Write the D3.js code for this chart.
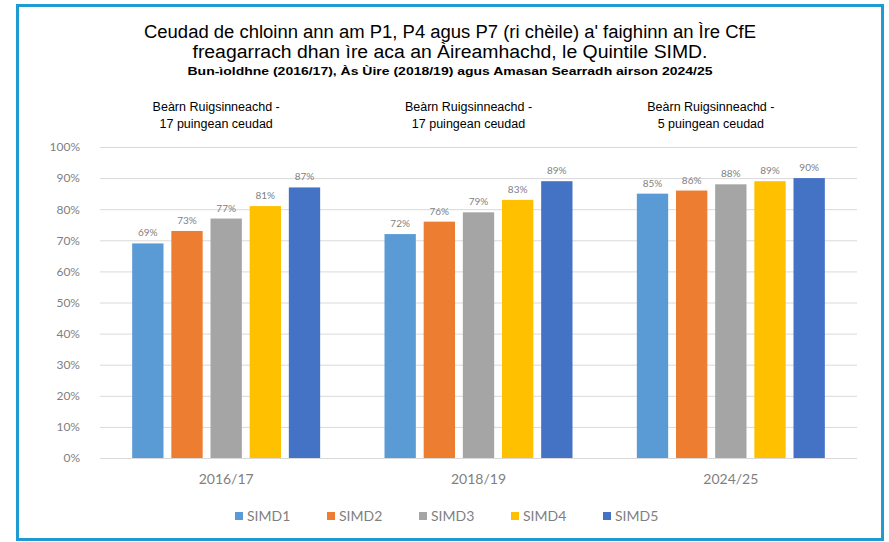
<!DOCTYPE html>
<html>
<head>
<meta charset="utf-8">
<script src="https://cdn.jsdelivr.net/npm/d3@7"></script>
<style>
  body { margin: 0; background: #fff; }
  svg { display: block; }
</style>
</head>
<body>
<div id="chart"></div>
<script>
const width = 889;
const height = 542;

// data
const years = ["2016/17", "2018/19", "2024/25"];
const series = ["SIMD1", "SIMD2", "SIMD3", "SIMD4", "SIMD5"];
const simd1 = [69, 72, 85];
const simd2 = [73, 76, 86];
const simd3 = [77, 79, 88];
const simd4 = [81, 83, 89];
const simd5 = [87, 89, 90];
const gapNotes = ["17 puingean ceudad", "17 puingean ceudad", "5 puingean ceudad"];
const yTicks = [0, 10, 20, 30, 40, 50, 60, 70, 80, 90, 100];
const colors = ["#5B9BD5", "#ED7D31", "#A5A5A5", "#FFC000", "#4472C4"];

const values = [simd1, simd2, simd3, simd4, simd5];
const noteShift = [-10, -10, -20]; // text boxes sit a little left of each group
const rows = years.map((y, i) => ({
    year: y,
    note: gapNotes[i],
    shift: noteShift[i],
    bars: series.map((s, j) => ({ key: s, value: values[j][i] }))
}));

const svg = d3.select("#chart")
    .append("svg")
        .attr("width", width)
        .attr("height", height);

// frame
svg.append("rect")
    .attr("x", 17.5).attr("y", 5.5)
    .attr("width", 865).attr("height", 534)
    .attr("fill", "#fff")
    .attr("stroke", "#1E9BD0")
    .attr("stroke-width", 3);

// scales
const x0 = d3.scaleBand()
    .domain(years)
    .range([100, 857])
    .paddingInner(0.255)
    .paddingOuter(0.1275);

const x1 = d3.scaleBand()
    .domain(series)
    .range([0, x0.bandwidth()])
    .paddingInner(0.2);

const y = d3.scaleLinear()
    .domain([0, 100])
    .range([458, 147]);

const color = d3.scaleOrdinal().domain(series).range(colors);

// gridlines
svg.append("g")
    .selectAll("line")
    .data(yTicks)
    .join("line")
        .attr("x1", 100).attr("x2", 857)
        .attr("y1", d => y(d) + 0.5).attr("y2", d => y(d) + 0.5)
        .attr("stroke", "#d9d9d9")
        .attr("stroke-width", 1);

// y axis labels
const yAxis = svg.append("g")
    .attr("transform", "translate(84,0)")
    .call(d3.axisLeft(y).tickValues(yTicks).tickSize(0).tickPadding(4).tickFormat(d => d + "%"));
yAxis.select(".domain").remove();
yAxis.selectAll("text")
    .attr("fill", "#7f7f7f")
    .style("font-family", "Lato, 'Open Sans', sans-serif")
    .style("font-size", "12px");

// bars
const groups = svg.append("g")
    .selectAll("g")
    .data(rows)
    .join("g")
        .attr("transform", d => "translate(" + x0(d.year) + ",0)");

groups.selectAll("rect")
    .data(d => d.bars)
    .join("rect")
        .attr("x", d => x1(d.key))
        .attr("y", d => y(d.value))
        .attr("width", x1.bandwidth())
        .attr("height", d => y(0) - y(d.value))
        .attr("fill", d => color(d.key));

groups.selectAll("text.val")
    .data(d => d.bars)
    .join("text")
        .attr("class", "val")
        .attr("x", d => x1(d.key) + x1.bandwidth() / 2)
        .attr("y", d => y(d.value) - 7)
        .attr("text-anchor", "middle")
        .attr("fill", "#7f7f7f")
        .style("font-family", "Lato, sans-serif")
        .style("font-size", "10px")
        .text(d => d.value + "%");

// category labels
const xAxis = svg.append("g")
    .attr("transform", "translate(0,458)")
    .call(d3.axisBottom(x0).tickSize(0).tickPadding(16));
xAxis.select(".domain").remove();
xAxis.selectAll("text")
    .attr("fill", "#7f7f7f")
    .style("font-family", "Lato, sans-serif")
    .style("font-size", "14px");

// gap annotations
const notes = svg.append("g")
    .selectAll("g")
    .data(rows)
    .join("g")
        .attr("transform", d => "translate(" + (x0(d.year) + x0.bandwidth() / 2 + d.shift) + ",0)")
        .attr("text-anchor", "middle")
        .style("font-family", "'Liberation Sans', Arial, sans-serif")
        .style("font-size", "12.5px")
        .attr("fill", "#000");
notes.append("text").attr("y", 111).text("Beàrn Ruigsinneachd -");
notes.append("text").attr("y", 128).text(d => d.note);

// title
const title = svg.append("g")
    .attr("text-anchor", "middle")
    .style("font-family", "'Liberation Sans', Arial, sans-serif")
    .attr("fill", "#000");
title.append("text").attr("x", 450).attr("y", 38).style("font-size", "18px")
    .attr("textLength", 612).attr("lengthAdjust", "spacingAndGlyphs")
    .text("Ceudad de chloinn ann am P1, P4 agus P7 (ri chèile) a' faighinn an Ìre CfE");
title.append("text").attr("x", 450).attr("y", 58).style("font-size", "18px")
    .attr("textLength", 515).attr("lengthAdjust", "spacingAndGlyphs")
    .text("freagarrach dhan ìre aca an Àireamhachd, le Quintile SIMD.");
title.append("text").attr("x", 450).attr("y", 75).style("font-size", "11.5px")
    .style("font-weight", "bold")
    .attr("textLength", 525).attr("lengthAdjust", "spacingAndGlyphs")
    .text("Bun-ìoldhne (2016/17), Às Ùire (2018/19) agus Amasan Searradh airson 2024/25");

// legend
const legend = svg.append("g")
    .selectAll("g")
    .data(series)
    .join("g")
        .attr("transform", (d, i) => "translate(" + (235 + i * 92) + ",516)");
legend.append("rect")
    .attr("x", 0).attr("y", -4)
    .attr("width", 8).attr("height", 8)
    .attr("fill", d => color(d));
legend.append("text")
    .attr("x", 12).attr("y", 5)
    .attr("fill", "#7f7f7f")
    .style("font-family", "Lato, sans-serif")
    .style("font-size", "14px")
    .text(d => d);
</script>
</body>
</html>
